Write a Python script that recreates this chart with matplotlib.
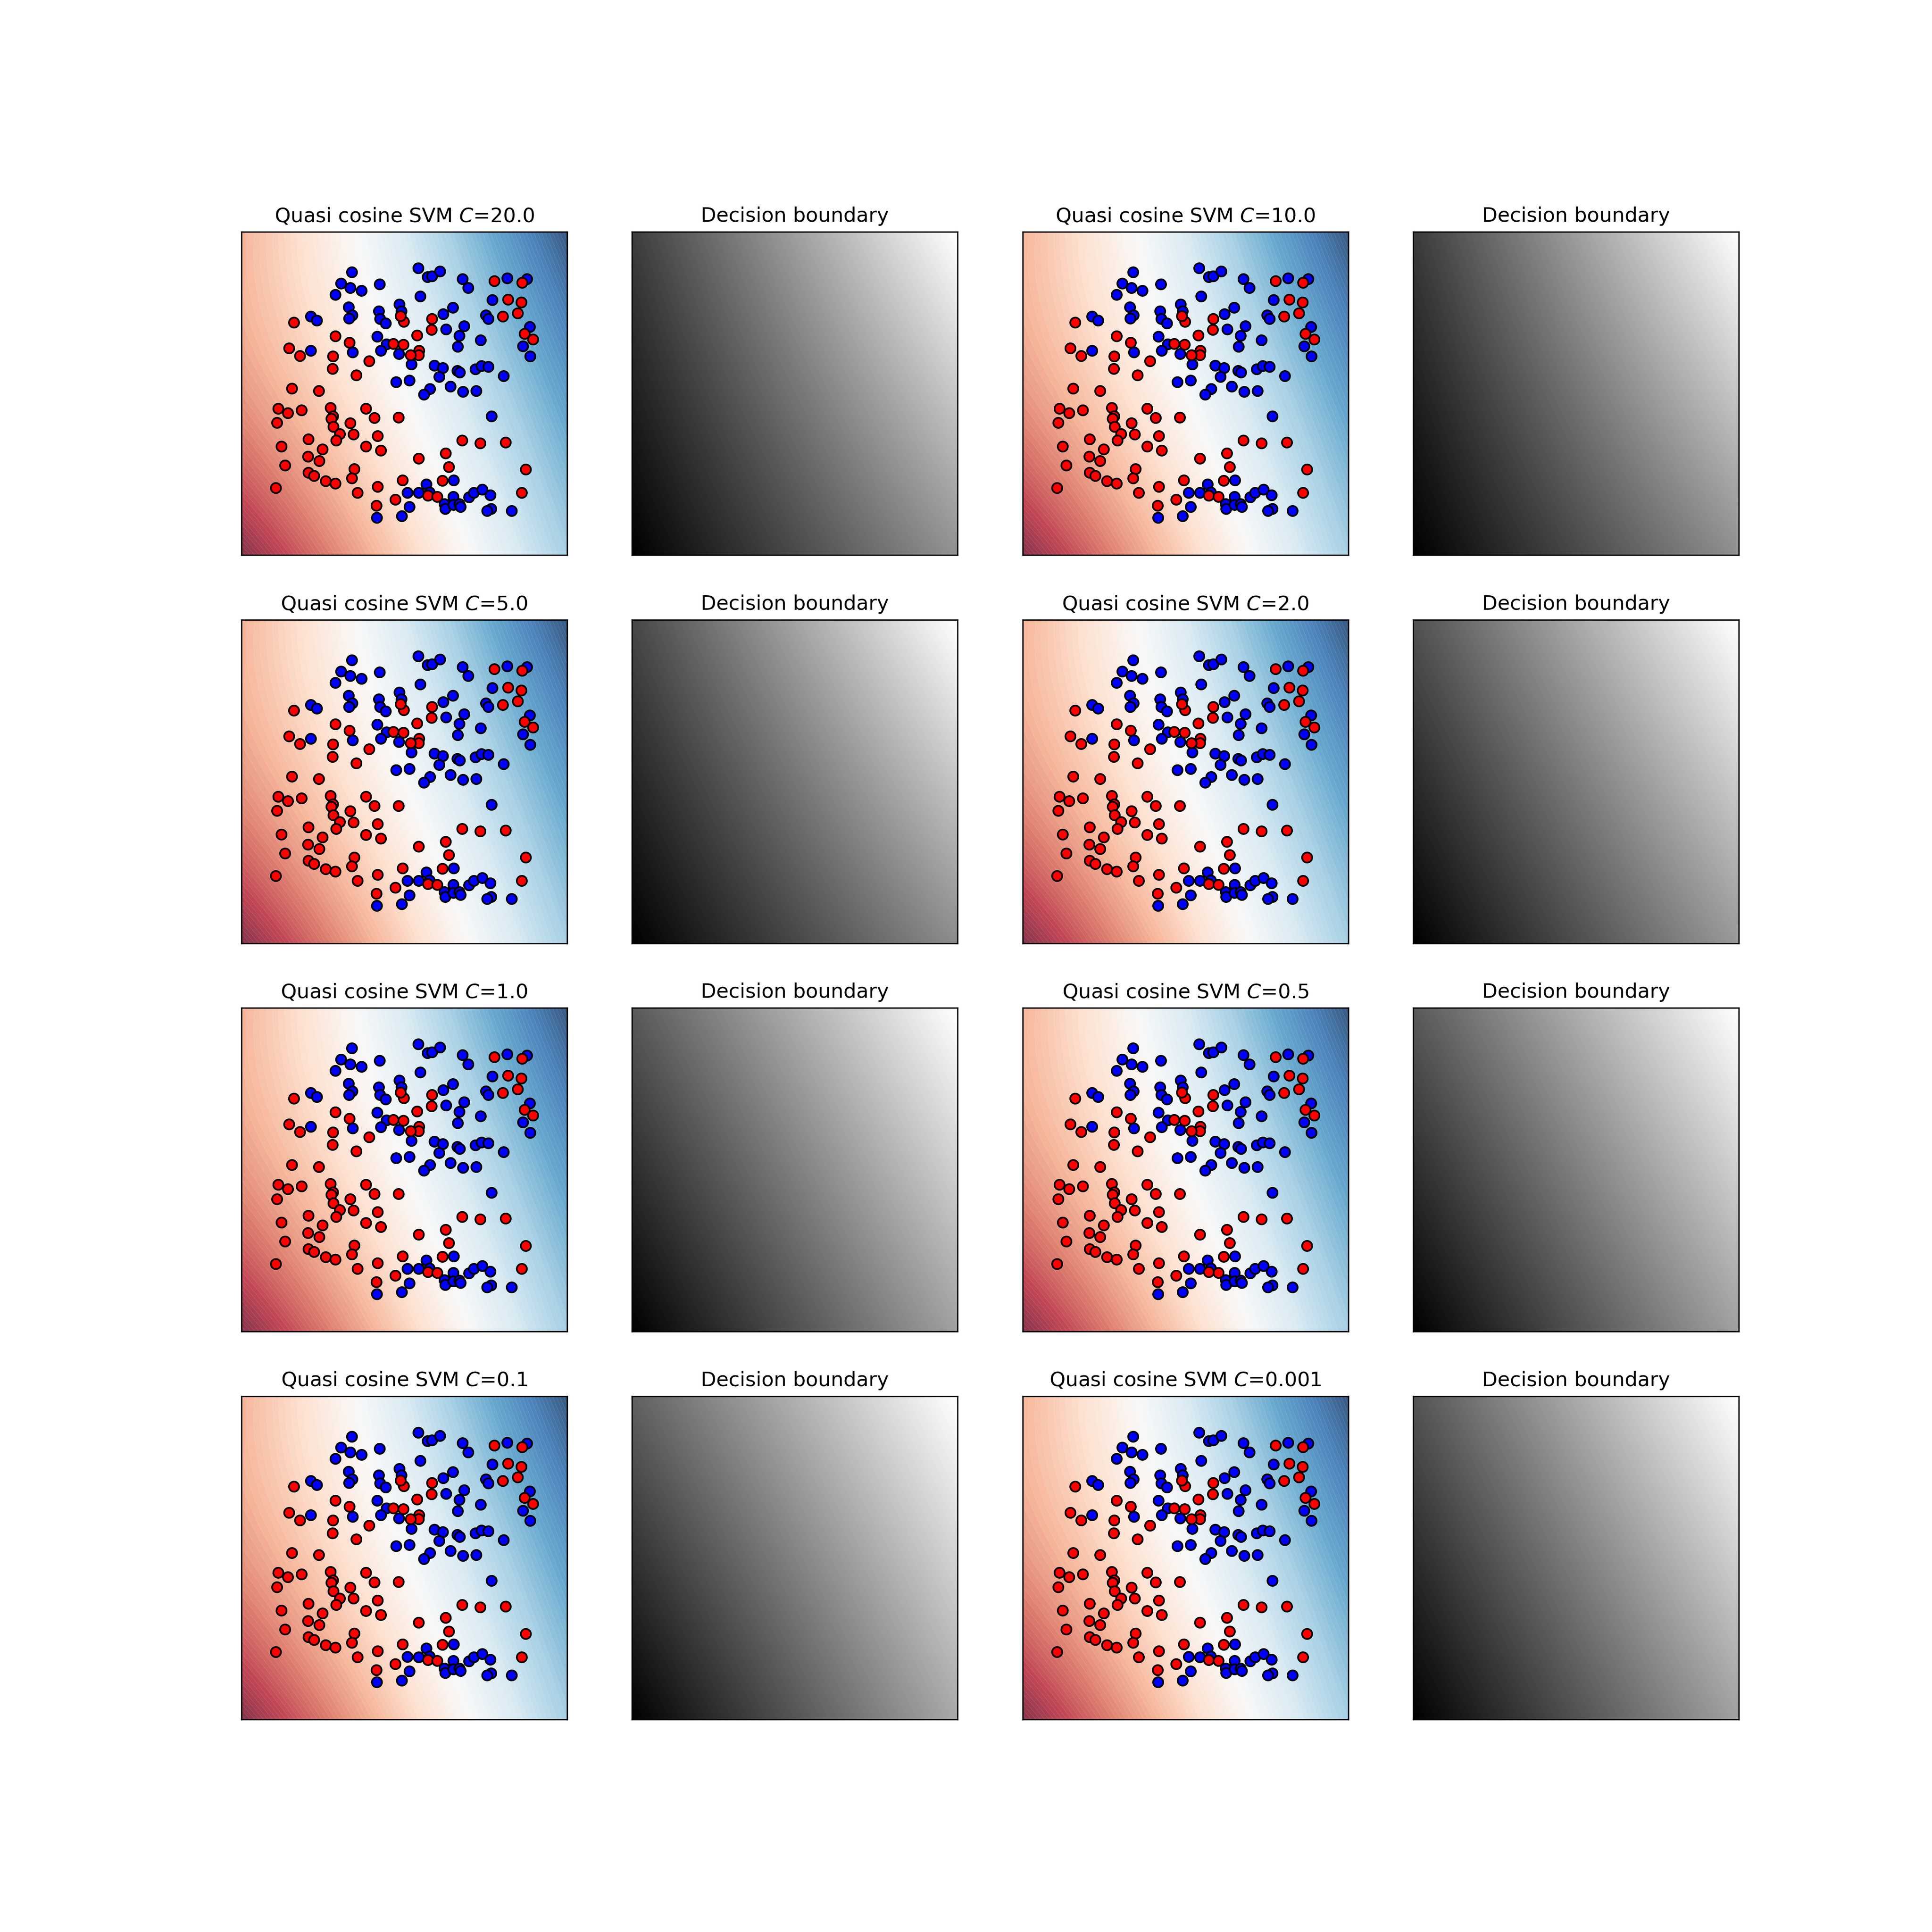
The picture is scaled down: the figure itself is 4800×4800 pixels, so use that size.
import numpy as np
import matplotlib
matplotlib.use("Agg")
import matplotlib.pyplot as plt

# ---------------- data ----------------
C_labels = ["20.0", "10.0", "5.0", "2.0", "1.0", "0.5", "0.1", "0.001"]

red_x = [-2.036, -1.274, -1.012, -2.127, -1.924, -1.318, -1.321, -0.651, -0.883, -0.206,
         -0.018, -0.010, -0.069, -2.075, -1.573,
         1.659, 2.168, 1.911, 2.156, 1.815, 2.087, 0.509, 0.502, 0.237, 2.213, 2.371,
         0.274, 0.264, 0.113,
         -2.327, -2.147, -1.895, -2.345, -1.360, -1.318, -1.348, -1.308, -1.187, -1.257,
         -0.997, -0.938, -0.705, -0.549, -0.109, -0.490, -0.705, -0.436, -1.768, -2.263,
         -1.506, -1.773, -1.571, -2.196, -1.766, -1.665, -1.447, -1.271, -0.923, -0.965,
         -2.367, -0.490, -0.863, -0.169, -0.517, -0.030,
         1.065, 1.397, 1.869, 2.238, 2.166, 0.764, 0.818, 0.264, 0.704, 0.432, 0.608]
red_y = [1.322, 1.066, 0.947, 0.842, 0.700, 0.695, 0.461, 0.603, 0.342, 0.924,
         0.909, 1.332, 1.437, 0.093, 0.051,
         2.089, 2.059, 1.746, 1.693, 1.429, 1.494, 1.390, 1.183, 1.083, 1.113, 1.006,
         0.797, 0.718, 0.718,
         -0.276, -0.360, -0.306, -0.542, -0.261, -0.418, -0.462, -0.617, -0.749, -0.871,
         -0.547, -0.754, -0.276, -0.450, -0.445, -0.786, -0.983, -1.057, -0.848, -0.980,
         -1.032, -1.169, -1.246, -1.331, -1.468, -1.525, -1.620, -1.667, -1.401, -1.570,
         -1.749, -1.729, -1.839, -1.966, -2.080, -1.607,
         -0.871, -0.920, -0.905, -1.408, -1.839, -1.110, -1.361, -1.204, -1.612, -1.894, -1.911]

blue_x = [-0.967, -1.170, -0.994, -0.792, -1.271, -0.455, -1.724, -1.615, -1.027, -0.957,
          -1.017, -0.468, -0.448, -0.342, -0.092, -0.052, -0.497, -0.329, -0.436, -0.099,
          -1.726, -0.952, -0.149,
          0.254, 0.430, 0.511, 0.655, 1.070, 1.179, 0.291, 1.894, 2.262, 1.622, 1.503,
          1.548, 0.897, 0.717, 0.771, 1.105, 1.016, 0.981, 1.404, 2.314, 2.188, 2.322,
          0.128, 0.551, 0.712, 0.645, 0.974, 1.021, 1.313, 1.424, 1.550, 1.830, 0.096,
          0.475, 0.851, 1.078, 1.323, 0.361,
          -0.507, -0.050,
          1.604, 0.405, 0.912, 0.059, 0.264, 0.467, 0.905, 0.739, 0.751, 0.900, 1.016,
          1.036, 1.192, 1.281, 1.436, 1.585, 1.600, 1.523, 1.975, 0.096]
blue_y = [2.253, 2.047, 1.960, 1.912, 1.838, 2.027, 1.429, 1.355, 1.601, 1.457,
          1.392, 1.531, 1.387, 1.307, 1.656, 1.531, 1.061, 0.919, 0.795, 0.737,
          0.797, 0.767, 0.217,
          2.328, 2.166, 2.179, 2.268, 2.129, 1.960, 1.805, 2.141, 2.124, 1.736, 1.457,
          1.387, 1.594, 1.479, 1.193, 1.253, 1.076, 0.869, 0.991, 1.235, 0.879, 0.690,
          0.541, 0.523, 0.479, 0.312, 0.424, 0.392, 0.454, 0.511, 0.496, 0.327, 0.242,
          0.088, 0.130, 0.038, 0.051, -0.017,
          -2.304, -2.272,
          -0.423, -1.680, -1.605, -1.836, -1.839, -1.831, -1.911, -2.048, -2.135, -2.065, -2.050,
          -2.098, -1.918, -1.839, -1.782, -1.886, -2.140, -2.177, -2.177, -2.103]

# normalised decision-surface samples on a 3x3 grid
# rows: bottom, middle, top ; columns: left, centre, right
svm_surface = [[0.00, 0.36, 0.70],
               [0.24, 0.50, 0.83],
               [0.30, 0.60, 1.00]]
# decision boundary panels (gray): corner values top-left / bottom-right
gray_top_left = [0.24, 0.23, 0.28, 0.32, 0.35, 0.35, 0.38, 0.33]
gray_bottom_right = [0.57, 0.56, 0.55, 0.60, 0.63, 0.63, 0.66, 0.63]

x_range = (-3.0, 3.0)
y_range = (-3.0, 3.0)

# ---------------- plotting ----------------
fig = plt.figure(figsize=(16, 16), dpi=300)

gx = np.linspace(x_range[0], x_range[1], 300)
gy = np.linspace(y_range[0], y_range[1], 300)
xx, yy = np.meshgrid(gx, gy)
uu = (xx - x_range[0]) / (x_range[1] - x_range[0])
vv = (yy - y_range[0]) / (y_range[1] - y_range[0])


def lagrange(t):
    return [2 * (t - 0.5) * (t - 1), -4 * t * (t - 1), 2 * t * (t - 0.5)]


Lu = lagrange(uu)
Lv = lagrange(vv)
Z_svm = np.zeros_like(uu)
for j in range(3):
    for i in range(3):
        Z_svm += svm_surface[j][i] * Lu[i] * Lv[j]
Z_svm = np.clip(Z_svm, 0, 1)


def gray_surface(tl, br):
    d = 1.0 - tl - br
    return br * uu + tl * vv + d * uu * vv


levels = np.linspace(0, 1, 101)

for i, lab in enumerate(C_labels):
    row, col = divmod(i, 2)
    ax = fig.add_subplot(4, 4, row * 4 + col * 2 + 1)
    ax.contourf(xx, yy, Z_svm, levels=levels, cmap=plt.cm.RdBu, alpha=0.8,
                vmin=0, vmax=1, antialiased=True)
    ax.scatter(blue_x, blue_y, c="#0000FF", edgecolors="k", s=36, linewidths=1.0, zorder=3)
    ax.scatter(red_x, red_y, c="#FF0000", edgecolors="k", s=36, linewidths=1.0, zorder=3)
    ax.set_xlim(*x_range)
    ax.set_ylim(*y_range)
    ax.set_xticks([])
    ax.set_yticks([])
    ax.set_title("Quasi cosine SVM $C$=" + lab)

    ax2 = fig.add_subplot(4, 4, row * 4 + col * 2 + 2)
    G = gray_surface(gray_top_left[i], gray_bottom_right[i])
    ax2.contourf(xx, yy, G, levels=np.linspace(0, 1, 201), cmap=plt.cm.gray,
                 vmin=0, vmax=1, antialiased=False)
    ax2.set_xlim(*x_range)
    ax2.set_ylim(*y_range)
    ax2.set_xticks([])
    ax2.set_yticks([])
    ax2.set_title("Decision boundary")

fig.savefig("out.png", dpi=300)
